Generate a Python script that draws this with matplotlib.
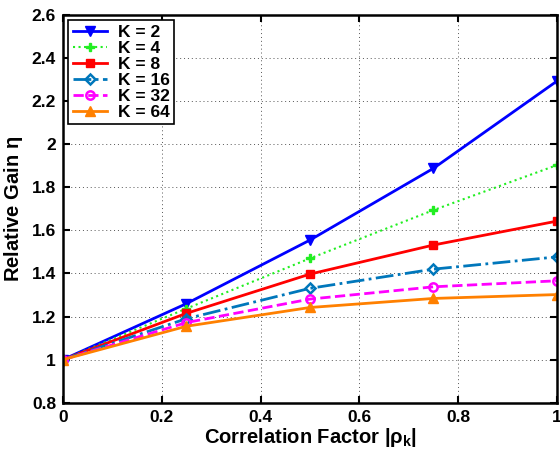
import matplotlib
matplotlib.use('Agg')
from matplotlib import pyplot as plt
from matplotlib.ticker import FuncFormatter
import numpy as np

plt.rcParams['font.family'] = ['Liberation Sans', 'DejaVu Sans']
plt.rcParams['font.weight'] = 'bold'
plt.rcParams['mathtext.fontset'] = 'custom'
plt.rcParams['mathtext.rm'] = 'Liberation Sans'
plt.rcParams['mathtext.it'] = 'Liberation Sans'
plt.rcParams['mathtext.bf'] = 'Liberation Sans:bold'

rho = [0, 0.25, 0.5, 0.75, 1.0]
k2 = [1.0, 1.26, 1.555, 1.888, 2.293]
k4 = [1.0, 1.237, 1.47, 1.694, 1.903]
k8 = [1.0, 1.215, 1.397, 1.532, 1.643]
k16 = [1.0, 1.19, 1.331, 1.42, 1.477]
k32 = [1.0, 1.172, 1.281, 1.338, 1.366]
k64 = [1.0, 1.155, 1.242, 1.284, 1.302]

fig = plt.figure(figsize=(5.6, 4.54), dpi=100)
ax = fig.add_axes([0.1125, 0.113, 0.882, 0.854])

ax.plot(rho, k2, '-', color='#0000ff', lw=2, marker='v', ms=7, label='K = 2')
ax.plot(rho, k4, ':', color='#22ee22', lw=1.5, marker='P', ms=6, label='K = 4')
ax.plot(rho, k8, '-', color='#ff0000', lw=2, marker='s', ms=6, label='K = 8')
ax.plot(rho, k16, '-.', color='#0077bb', lw=2, marker='D', ms=5, mfc='none', mew=1.8, label='K = 16')
ax.plot(rho, k32, '--', color='#ff00ff', lw=2, marker='o', ms=6, mfc='none', mew=1.8, label='K = 32')
ax.plot(rho, k64, '-', color='#ff8000', lw=2, marker='^', ms=7, label='K = 64')

ax.set_xlim(0, 1)
ax.set_ylim(0.8, 2.6)
ax.set_xticks(np.arange(0, 1.01, 0.2))
ax.set_yticks(np.arange(0.8, 2.61, 0.2))
ax.xaxis.set_major_formatter(FuncFormatter(lambda v, p: '%g' % round(v, 2)))
ax.yaxis.set_major_formatter(FuncFormatter(lambda v, p: '%g' % round(v, 2)))
ax.tick_params(direction='in', labelsize=12.5, width=1.5, length=5, top=True, right=True, pad=5)
for s in ax.spines.values():
    s.set_linewidth(1.8)
ax.grid(True, linestyle=(0, (1, 3)), color='#555555', lw=0.7)

ax.set_xlabel(r'Correlation Factor $|\rho_{\mathbf{k}}|$', fontsize=14.5, fontweight='bold', labelpad=1)
ax.set_ylabel(r'Relative Gain $\eta$', fontsize=14.5, fontweight='bold', labelpad=5)

leg = ax.legend(loc='upper left', fontsize=12.5, handlelength=2.0, borderpad=0.25,
                labelspacing=0.05, handletextpad=0.6, fancybox=False, framealpha=1,
                edgecolor='black', borderaxespad=0.3)
leg.get_frame().set_linewidth(1.2)

plt.savefig('out.png', dpi=100)
